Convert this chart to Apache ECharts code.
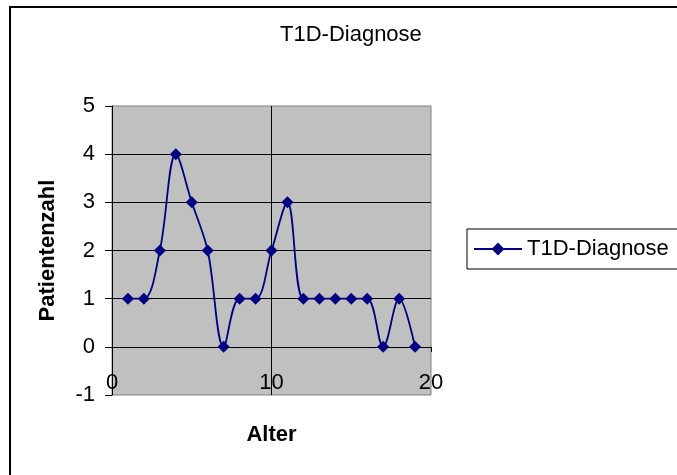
<!DOCTYPE html>
<html>
<head>
<meta charset="utf-8">
<script src="https://cdn.jsdelivr.net/npm/echarts@6/dist/echarts.min.js"></script>
<style>
html,body{margin:0;padding:0;background:#fff;}
#c{width:677px;height:475px;}
</style>
</head>
<body>
<div id="c"></div>
<script>
const ages = [1,2,3,4,5,6,7,8,9,10,11,12,13,14,15,16,17,18,19];
const patients = [1,1,2,4,3,2,0,1,1,2,3,1,1,1,1,1,0,1,0];
const seriesName = 'T1D-Diagnose';
const titleText = 'T1D-Diagnose';
const xName = 'Alter';
const yName = 'Patientenzahl';

const font = '"Liberation Sans", Arial, sans-serif';
const chart = echarts.init(document.getElementById('c'), null, {renderer:'canvas'});
chart.setOption({
  animation:false,
  backgroundColor:'#fff',
  textStyle:{fontFamily:font},
  title:{text:titleText,left:280,top:24,padding:0,
    textStyle:{fontFamily:font,fontSize:22,fontWeight:'normal',color:'#000'}},
  legend:{
    left:467,top:229,orient:'vertical',
    padding:[9,20,9,6],
    borderColor:'#000',borderWidth:1,
    itemWidth:48,itemHeight:16,itemGap:5,
    textStyle:{fontFamily:font,fontSize:22,color:'#000'},
    data:[seriesName]
  },
  grid:{left:112,top:106,width:319,height:289,show:true,containLabel:false,
    outerBoundsMode:'none',
    backgroundColor:'#c0c0c0',borderColor:'#808080',borderWidth:1},
  xAxis:{
    type:'value',min:0,max:20,interval:10,
    name:xName,nameLocation:'middle',nameGap:29,
    nameTextStyle:{fontFamily:font,fontSize:22,fontWeight:'bold',color:'#000'},
    axisLine:{show:true,onZero:true,lineStyle:{color:'#000',width:1}},
    axisTick:{show:true,length:5,lineStyle:{color:'#000'}},
    axisLabel:{margin:-23,fontFamily:font,fontSize:22,color:'#000'},
    splitLine:{show:true,showMinLine:false,showMaxLine:false,lineStyle:{color:'#000',width:1}}
  },
  yAxis:{
    type:'value',min:-1,max:5,interval:1,
    name:yName,nameLocation:'middle',nameGap:53,
    nameTextStyle:{fontFamily:font,fontSize:22,fontWeight:'bold',color:'#000'},
    axisLine:{show:true,lineStyle:{color:'#000',width:1}},
    axisTick:{show:true,length:7,lineStyle:{color:'#000'}},
    axisLabel:{margin:17,fontFamily:font,fontSize:22,color:'#000'},
    splitLine:{show:true,showMinLine:false,showMaxLine:false,lineStyle:{color:'#000',width:1}}
  },
  graphic:[{type:'rect',shape:{x:10,y:7,width:700,height:500},
    style:{fill:null,stroke:'#000',lineWidth:2},silent:true}],
  series:[{
    name:seriesName,type:'line',
    data:ages.map((a,i)=>[a,patients[i]]),
    smooth:0.35,
    symbol:'diamond',symbolSize:12,
    lineStyle:{color:'#000080',width:1.8},
    itemStyle:{color:'#000080'}
  }]
});
</script>
</body>
</html>
